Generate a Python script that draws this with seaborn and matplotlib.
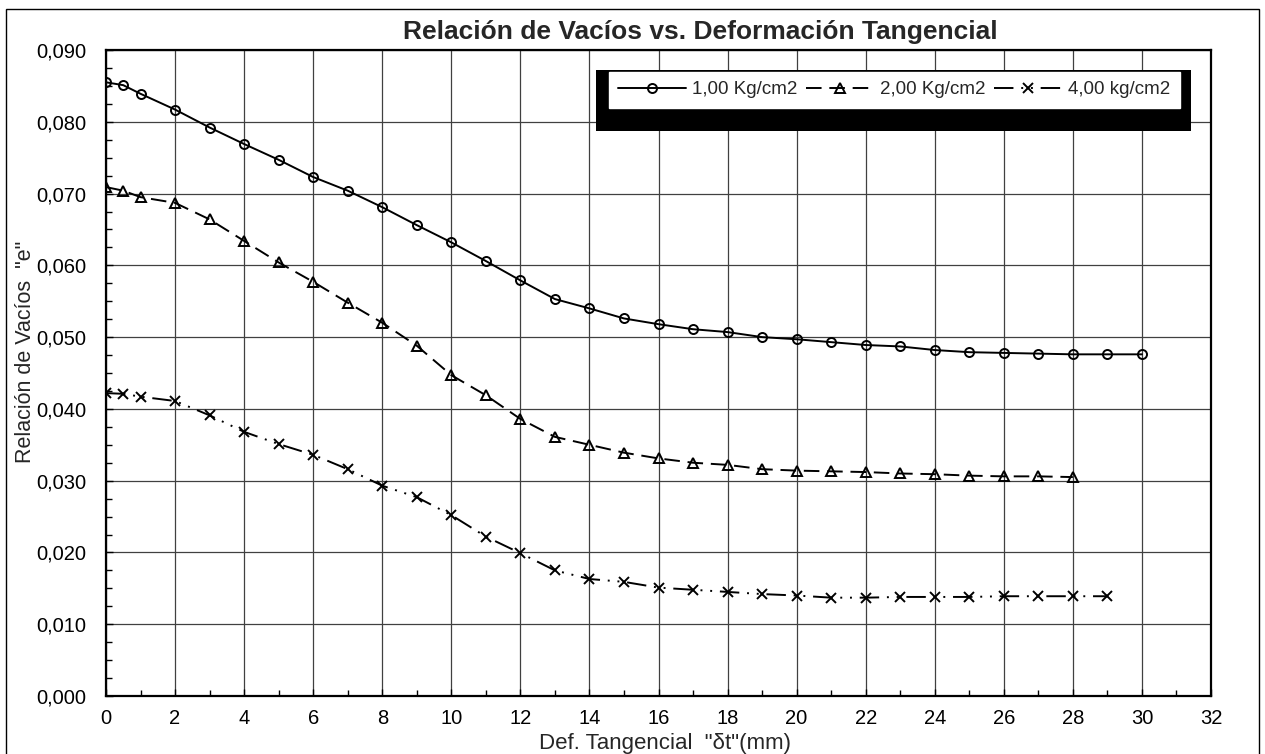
import matplotlib
matplotlib.use("Agg")
import matplotlib.pyplot as plt
import matplotlib.patches as mpatches
from matplotlib.ticker import MultipleLocator, FuncFormatter
import numpy as np
import pandas as pd
import seaborn as sns

# Tangential deformation (mm) and void ratio for each normal load
def_1kg = [0, 0.5, 1, 2, 3, 4, 5, 6, 7, 8, 9, 10, 11, 12, 13, 14, 15, 16, 17, 18, 19, 20,
           21, 22, 23, 24, 25, 26, 27, 28, 29, 30]
e_1kg = [0.0855, 0.0851, 0.0839, 0.0817, 0.0792, 0.0769, 0.0747, 0.0723, 0.0704, 0.0681,
         0.0656, 0.0632, 0.0606, 0.0579, 0.0553, 0.0540, 0.0526, 0.0518, 0.0511, 0.0507,
         0.0500, 0.0497, 0.0493, 0.0489, 0.0487, 0.0482, 0.0479, 0.0478, 0.0477, 0.0476,
         0.0476, 0.0476]

def_2kg = [0, 0.5, 1, 2, 3, 4, 5, 6, 7, 8, 9, 10, 11, 12, 13, 14, 15, 16, 17, 18, 19, 20,
           21, 22, 23, 24, 25, 26, 27, 28]
e_2kg = [0.0709, 0.0704, 0.0695, 0.0687, 0.0664, 0.0634, 0.0604, 0.0577, 0.0548, 0.0520,
         0.0488, 0.0447, 0.0419, 0.0386, 0.0361, 0.0350, 0.0339, 0.0331, 0.0325, 0.0322,
         0.0316, 0.0314, 0.0313, 0.0312, 0.0310, 0.0309, 0.0307, 0.0306, 0.0306, 0.0305]

def_4kg = [0, 0.5, 1, 2, 3, 4, 5, 6, 7, 8, 9, 10, 11, 12, 13, 14, 15, 16, 17, 18, 19, 20,
           21, 22, 23, 24, 25, 26, 27, 28, 29]
e_4kg = [0.0422, 0.0421, 0.0417, 0.0411, 0.0391, 0.0368, 0.0351, 0.0336, 0.0316, 0.0293,
         0.0277, 0.0252, 0.0222, 0.0199, 0.0175, 0.0163, 0.0159, 0.0151, 0.0148, 0.0145,
         0.0142, 0.0140, 0.0137, 0.0137, 0.0138, 0.0138, 0.0138, 0.0139, 0.0139, 0.0139,
         0.0139]

series_labels = ["1,00 Kg/cm2", "2,00 Kg/cm2", "4,00 kg/cm2"]

sns.set_theme(style="white")
plt.rcParams["font.family"] = ["Liberation Sans", "DejaVu Sans"]

W, H = 1265, 754
fig = plt.figure(figsize=(W / 100, H / 100), dpi=100)
ax = fig.add_axes([106 / W, 1 - 696 / H, (1211 - 106) / W, (696 - 50) / H])

styles = [
    dict(linestyle="-", marker="o", markersize=6.5),
    dict(linestyle=(0, (8, 4)), marker="^", markersize=6.5),
    dict(linestyle=(0, (10, 4, 1, 4, 1, 4)), marker="x", markersize=7.5),
]
datasets = [(def_1kg, e_1kg), (def_2kg, e_2kg), (def_4kg, e_4kg)]

for (xs, ys), lab, st in zip(datasets, series_labels, styles):
    df = pd.DataFrame({"x": xs, "e": ys})
    sns.lineplot(data=df, x="x", y="e", ax=ax, color="black", linewidth=1.4,
                 markerfacecolor="none", markeredgecolor="black", markeredgewidth=1.4,
                 label=lab, estimator=None, sort=False, **st)

ax.set_xlim(0, 32)
ax.set_ylim(0, 0.09)
ax.xaxis.set_major_locator(MultipleLocator(2))
ax.xaxis.set_minor_locator(MultipleLocator(1))
ax.yaxis.set_major_locator(MultipleLocator(0.01))
ax.yaxis.set_minor_locator(MultipleLocator(0.0025))
ax.yaxis.set_major_formatter(FuncFormatter(lambda v, p: f"{v:.3f}".replace(".", ",")))
ax.xaxis.set_major_formatter(FuncFormatter(lambda v, p: f"{v:.0f}"))

ax.grid(True, which="major", color="#404040", linewidth=0.9)
ax.tick_params(axis="both", which="both", direction="in", colors="black",
               labelsize=14.5, bottom=True, left=True)
ax.tick_params(axis="both", which="major", length=5, width=1)
ax.tick_params(axis="both", which="minor", length=4, width=1)
ax.tick_params(axis="x", which="major", pad=9)
ax.tick_params(axis="y", which="major", pad=14)
for sp in ax.spines.values():
    sp.set_color("black")
    sp.set_linewidth(1.6)

ax.set_xlabel('Def. Tangencial  "δt"(mm)', fontsize=16)
ax.xaxis.set_label_coords((665 - 106) / (1211 - 106), -(733 - 696) / (696 - 50))
ax.set_ylabel('Relación de Vacíos  "e"', fontsize=15.5)
ax.yaxis.set_label_coords(-(106 - 36) / (1211 - 106), (696 - 352) / (696 - 50))

fig.text(700 / W, 1 - 32 / H, "Relación de Vacíos vs. Deformación Tangencial",
         ha="center", va="center", fontsize=19, fontweight="bold")

# legend with heavy black backing box
backing = mpatches.Rectangle((596 / W, 1 - 131 / H), (1191 - 596) / W, (131 - 70) / H,
                             transform=fig.transFigure, facecolor="black",
                             edgecolor="none", zorder=4.5, clip_on=False)
ax.add_patch(backing)
leg = ax.legend(loc="upper left", ncol=3, mode="expand",
                bbox_to_anchor=(609 / W, 1 - 109 / H, (1180 - 609) / W, (109 - 72) / H),
                bbox_transform=fig.transFigure, borderaxespad=0, frameon=True,
                fancybox=False, fontsize=13.5, handlelength=3.6, handletextpad=0.35,
                columnspacing=0.8, borderpad=0.5)
leg.get_frame().set_facecolor("white")
leg.get_frame().set_edgecolor("white")
leg.get_frame().set_alpha(1)
leg.set_zorder(5)

# outer figure frame
frame = mpatches.Rectangle((6 / W, -0.01), (1259 - 6) / W, 1.01 - 9 / H,
                           transform=fig.transFigure, facecolor="none",
                           edgecolor="black", linewidth=1.0)
fig.patches.append(frame)

fig.savefig("out.png", dpi=100)
